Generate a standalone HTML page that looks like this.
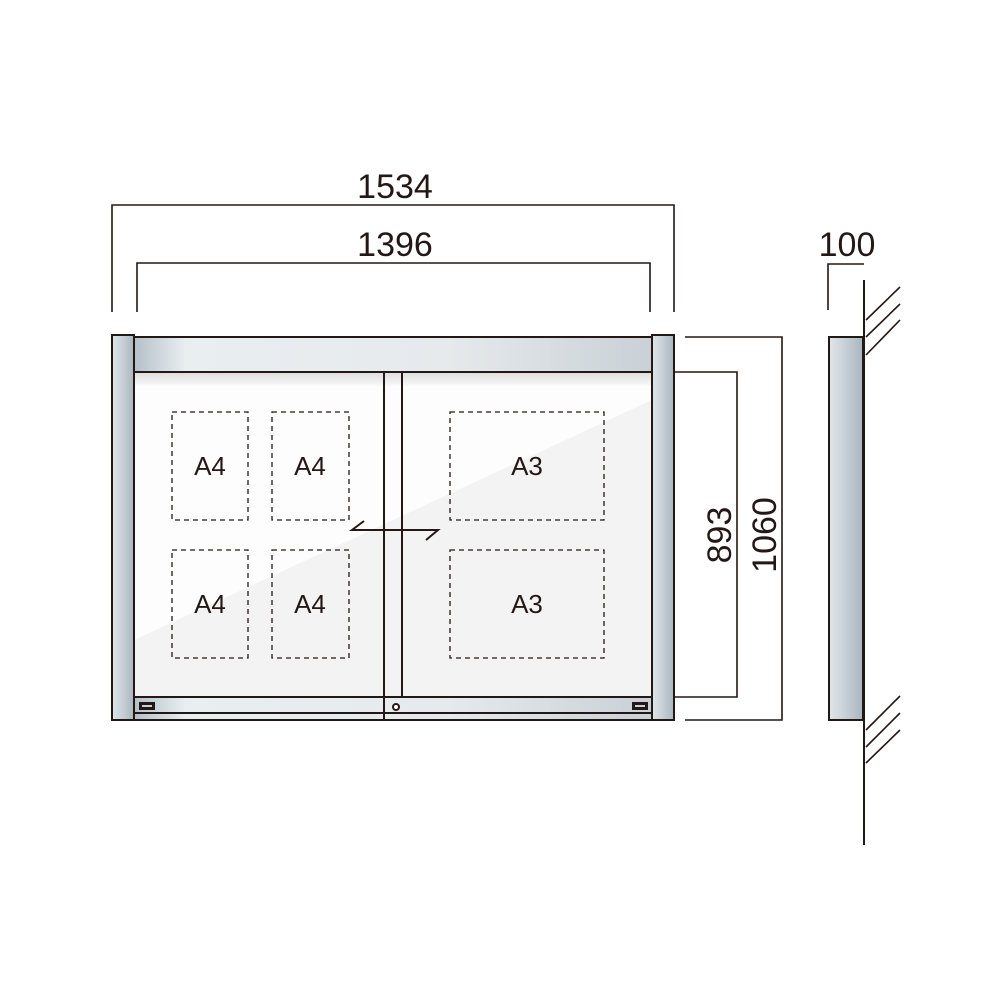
<!DOCTYPE html>
<html><head><meta charset="utf-8"><style>
html,body{margin:0;padding:0;background:#fff;width:1000px;height:1000px;overflow:hidden}
</style></head><body>
<svg width="1000" height="1000" viewBox="0 0 1000 1000" xmlns="http://www.w3.org/2000/svg" font-family="Liberation Sans, sans-serif">
<defs>
<linearGradient id="bar" x1="0" x2="1" y1="0" y2="0">
<stop offset="0" stop-color="#b4c0c8"/><stop offset="0.1" stop-color="#e9eef1"/><stop offset="0.6" stop-color="#e6eaed"/><stop offset="1" stop-color="#c9d1d6"/></linearGradient>
<linearGradient id="post" x1="0" x2="1" y1="0" y2="0">
<stop offset="0" stop-color="#e0e6ea"/><stop offset="0.4" stop-color="#cbd4da"/><stop offset="1" stop-color="#a9b5bd"/></linearGradient>
<linearGradient id="shade" x1="0" x2="0" y1="0" y2="1">
<stop offset="0" stop-color="#dcdcdc"/><stop offset="1" stop-color="#fafafa"/></linearGradient>
</defs>
<g stroke="#231815" fill="none" stroke-width="1.6">
<!-- dims top -->
<polyline points="112,312 112,205 674,205 674,312"/>
<polyline points="137,312 137,263 650,263 650,312"/>
<!-- right dims -->
<polyline points="685,337 782,337 782,720 685,720"/>
<polyline points="674,372 737,372 737,697 674,697"/>
</g>
<text x="395" y="198" font-size="34" text-anchor="middle" fill="#231815">1534</text>
<text x="395" y="256" font-size="34" text-anchor="middle" fill="#231815">1396</text>
<text transform="translate(731,535) rotate(-90)" font-size="34" text-anchor="middle" fill="#231815">893</text>
<text transform="translate(776,535) rotate(-90)" font-size="34" text-anchor="middle" fill="#231815">1060</text>

<!-- glass -->
<rect x="134" y="372" width="518" height="325" fill="#f3f3f3"/>
<polygon points="134,372 652,372 652,400 134,640" fill="#fdfdfd"/>
<rect x="134" y="372" width="518" height="14" fill="url(#shade)"/>
<!-- top bar -->
<rect x="134" y="337" width="518" height="35" fill="url(#bar)" stroke="#231815" stroke-width="2"/>
<!-- bottom rail -->
<rect x="134" y="697" width="518" height="16" fill="url(#bar)" stroke="#231815" stroke-width="2"/>
<rect x="134" y="713" width="518" height="7" fill="url(#bar)" stroke="#231815" stroke-width="2"/>
<!-- stile -->
<line x1="384" y1="372" x2="384" y2="720" stroke="#231815" stroke-width="2"/>
<line x1="402" y1="372" x2="402" y2="697" stroke="#231815" stroke-width="2"/>
<circle cx="396" cy="707" r="3" fill="#fff" stroke="#231815" stroke-width="2"/>
<!-- posts -->
<rect x="112" y="335" width="22" height="385" fill="url(#post)" stroke="#231815" stroke-width="2"/>
<rect x="652" y="335" width="22" height="385" fill="url(#post)" stroke="#231815" stroke-width="2"/>
<rect x="139" y="702" width="16" height="8" fill="#231815"/><rect x="142" y="705" width="10" height="2" fill="#c9d1d6"/>
<rect x="632" y="702" width="16" height="8" fill="#231815"/><rect x="635" y="705" width="10" height="2" fill="#c9d1d6"/>
<!-- dashed boxes -->
<g stroke="#231815" fill="none" stroke-width="1.3" stroke-dasharray="5,4">
<rect x="172" y="412" width="76" height="108"/>
<rect x="272" y="412" width="77" height="108"/>
<rect x="172" y="550" width="76" height="108"/>
<rect x="272" y="550" width="77" height="108"/>
<rect x="450" y="412" width="154" height="108"/>
<rect x="450" y="550" width="154" height="108"/>
</g>
<g font-size="26" fill="#231815" text-anchor="middle">
<text x="210" y="475">A4</text><text x="310" y="475">A4</text>
<text x="210" y="613">A4</text><text x="310" y="613">A4</text>
<text x="527" y="475">A3</text><text x="527" y="613">A3</text>
</g>
<!-- arrow -->
<polyline points="364,521 352,530 438,530 426,540" fill="none" stroke="#231815" stroke-width="2"/>

<!-- side view -->
<rect x="829" y="337" width="34" height="383" fill="url(#post)" stroke="#231815" stroke-width="2"/>
<g stroke="#231815" fill="none" stroke-width="1.6">
<polyline points="828,310 828,264 864,264"/>
<line x1="864" y1="280" x2="864" y2="845" stroke-width="2"/>
<line x1="866" y1="320" x2="900" y2="287"/>
<line x1="866" y1="337" x2="900" y2="304"/>
<line x1="866" y1="355" x2="900" y2="320"/>
<line x1="866" y1="730" x2="900" y2="696"/>
<line x1="866" y1="747" x2="900" y2="713"/>
<line x1="866" y1="763" x2="900" y2="730"/>
</g>
<text x="847" y="256" font-size="34" text-anchor="middle" fill="#231815">100</text>
</svg>
</body></html>
